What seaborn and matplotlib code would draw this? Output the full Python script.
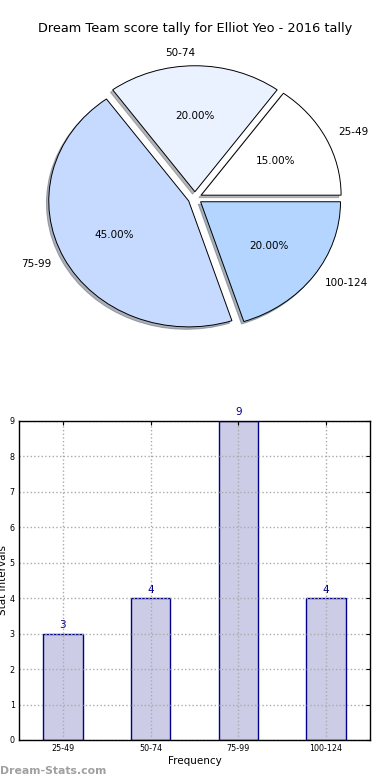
import pandas as pd
import seaborn as sns
import matplotlib
matplotlib.use("Agg")
import matplotlib.pyplot as plt

# Score tally data
intervals = ['25-49', '50-74', '75-99', '100-124']
counts = [3, 4, 9, 4]
pie_colors = ['#ffffff', '#eaf1ff', '#c6d9ff', '#b3d5ff']
explode = [0.05, 0.05, 0.05, 0.05]

tally = pd.DataFrame({'interval': intervals, 'count': counts})

sns.set_style("white")
plt.rcParams['font.family'] = ['DejaVu Sans']
plt.rcParams['text.color'] = 'black'
plt.rcParams['axes.labelcolor'] = 'black'
plt.rcParams['xtick.color'] = 'black'
plt.rcParams['ytick.color'] = 'black'

fig = plt.figure(figsize=(3.9, 7.8), dpi=100)

# Pie chart (old style, stretched ellipse)
ax_pie = fig.add_axes([0.0513, 0.5442, 0.897, 0.4038])
wedges, texts, autotexts = ax_pie.pie(
    tally['count'], labels=tally['interval'], colors=pie_colors,
    explode=explode, autopct='%.2f%%',
    shadow={'ox': -0.012, 'oy': -0.014, 'shade': 0.55},
    wedgeprops={'edgecolor': 'black', 'linewidth': 0.7},
    textprops={'fontsize': 7.5, 'color': 'black'})
ax_pie.set_aspect('auto')
ax_pie.set_xlim(-1.25, 1.25)
ax_pie.set_ylim(-1.25, 1.25)
ax_pie.set_title("Dream Team score tally for Elliot Yeo - 2016 tally", fontsize=9.3)

# Bar chart
ax_bar = fig.add_axes([0.0487, 0.0513, 0.9, 0.409])
sns.barplot(data=tally, x='interval', y='count', ax=ax_bar, width=0.45,
            color='#ccccE6', edgecolor='#00008b', linewidth=1, saturation=1)
for i, c in enumerate(counts):
    ax_bar.text(i, c + 0.1, str(c), ha='center', va='bottom',
                color='#00008b', fontsize=7.5)
ax_bar.set_xlim(-0.5, 3.5)
ax_bar.set_ylim(0, 9)
ax_bar.set_yticks(range(10))
ax_bar.grid(True, linestyle=':', color='#aaaaaa', linewidth=1)
ax_bar.set_axisbelow(False)
for spine in ax_bar.spines.values():
    spine.set_color('black')
    spine.set_linewidth(1)
    spine.set_zorder(5)
ax_bar.tick_params(axis='both', direction='in', labelsize=5.8, length=3,
                   top=True, right=True, pad=3)
ax_bar.set_xlabel("Frequency", fontsize=7.5, labelpad=2)
ax_bar.set_ylabel("Stat Intervals", fontsize=7.5, labelpad=1)

fig.text(0.0, 0.005, "Dream-Stats.com", fontsize=7.8, fontweight='bold',
         color='#a0a0a0', ha='left', va='bottom')

fig.savefig('out.png', dpi=100)
